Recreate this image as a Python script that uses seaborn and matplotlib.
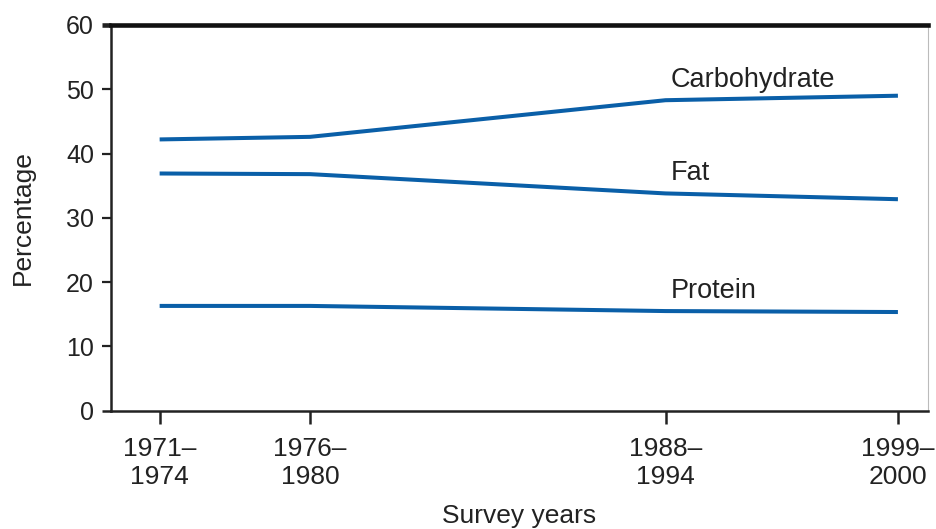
import numpy as np
import pandas as pd
import matplotlib
matplotlib.use("Agg")
import matplotlib.pyplot as plt
import seaborn as sns

# survey periods, placed at the middle year of each period
survey_labels = ["1971–\n1974", "1976–\n1980", "1988–\n1994", "1999–\n2000"]
survey_mid = [1972.5, 1978.0, 1991.0, 1999.5]

# percentage of energy intake
carbohydrate = [42.2, 42.6, 48.3, 49.0]
fat = [36.9, 36.8, 33.8, 32.9]
protein = [16.3, 16.3, 15.5, 15.35]

nutrients = ["Carbohydrate", "Fat", "Protein"]
yticks = [0, 10, 20, 30, 40, 50, 60]

# %%
df = pd.DataFrame({
    "year": survey_mid * 3,
    "pct": carbohydrate + fat + protein,
    "nutrient": np.repeat(nutrients, len(survey_mid)),
})

sns.set_theme(style="white")
plt.rcParams["font.family"] = ["Liberation Sans", "DejaVu Sans"]

blue = "#0a5fa8"
text_col = "#222222"

fig = plt.figure(figsize=(9.36, 5.29), dpi=100)
ax = fig.add_axes([110.7 / 936, 1 - 410.7 / 529, (928 - 110.7) / 936, (410.7 - 25) / 529])

sns.lineplot(
    data=df, x="year", y="pct", hue="nutrient",
    palette=[blue] * 3, linewidth=2.9, legend=False, ax=ax
)
for ln in ax.lines:
    ln.set_solid_capstyle("butt")

# labels above the 1988-1994 point of each line
series = {"Carbohydrate": carbohydrate, "Fat": fat, "Protein": protein}
for name in nutrients:
    ax.annotate(
        name, xy=(survey_mid[2], series[name][2]),
        xytext=(3.5, 9.5), textcoords="offset points",
        ha="left", va="baseline", fontsize=19.5, color=text_col
    )

ax.set_xlim(1970.71, 2000.6)
ax.set_ylim(0, 60)
ax.set_yticks(yticks)
ax.set_xticks(survey_mid)
ax.set_xticklabels(survey_labels)

ax.tick_params(axis="y", direction="out", length=6.5, width=1.6, pad=5.5,
               labelsize=18, labelcolor=text_col, color="#222222", left=True)
ax.tick_params(axis="x", direction="out", length=9, width=1.8, pad=10,
               labelsize=19, labelcolor=text_col, color="#222222", bottom=True)

# top & bottom "ticks" blend into the heavy frame lines
yt = ax.yaxis.get_major_ticks()
yt[0].tick1line.set_markeredgewidth(1.8)
yt[-1].tick1line.set_markeredgewidth(3.3)
yt[-1].tick1line.set_color("#111111")

for s in ["left", "bottom"]:
    ax.spines[s].set_color("#222222")
    ax.spines[s].set_linewidth(1.8)
ax.spines["top"].set_color("#111111")
ax.spines["top"].set_linewidth(3.3)
ax.spines["right"].set_color("#bbbbbb")
ax.spines["right"].set_linewidth(0.8)

ax.set_xlabel("Survey years", fontsize=19, color=text_col)
ax.set_ylabel("Percentage", fontsize=19, color=text_col)
ax.xaxis.set_label_coords(0.5, -0.243)
ax.yaxis.set_label_coords(-0.093, 0.5)

fig.savefig("out.png", dpi=100)
